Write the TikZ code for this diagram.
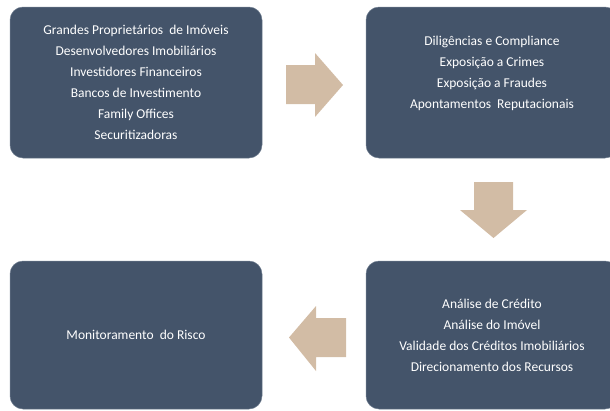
\documentclass[tikz,border=0pt]{standalone}
\usepackage{fontspec}
\setmainfont{Carlito}
\definecolor{boxfill}{HTML}{44546A}
\definecolor{boxedge}{HTML}{6F7D8F}
\definecolor{arrowtan}{HTML}{D2BCA5}
\begin{document}
\begin{tikzpicture}[x=1pt,y=-1pt,
  panel/.style={draw=boxedge, line width=0.5pt, fill=boxfill, rounded corners=13pt,
    minimum width=252pt, inner sep=0pt, text=white,
    align=center, font=\fontsize{13.5}{21}\selectfont},
  blockarrow/.style={fill=arrowtan, draw=none}]
\useasboundingbox (0,0) rectangle (610,410);
\node[panel, minimum height=151pt] (src) at (136,82.5) {Grandes Proprietários~ de Imóveis\\Desenvolvedores Imobiliários\\Investidores Financeiros\\Bancos de Investimento\\Family Offices\\Securitizadoras};
\node[panel, minimum height=151pt] (dil) at (492,82.5) {Diligências e Compliance\\Exposição a Crimes\\Exposição a Fraudes\\Apontamentos~ Reputacionais\\ ~};
\node[panel, minimum height=148pt] (ana) at (492,335) {Análise de Crédito\\Análise do Imóvel\\Validade dos Créditos Imobiliários\\Direcionamento dos Recursos};
\node[panel, minimum height=148pt] (mon) at (136,335) {Monitoramento~ do Risco};
% right arrow
\fill[blockarrow] (286,65) -- (315,65) -- (315,53) -- (343,85) -- (315,117) -- (315,104) -- (286,104) -- cycle;
% down arrow
\fill[blockarrow] (474,182) -- (513,182) -- (513,210) -- (527,210) -- (493.5,238) -- (460,210) -- (474,210) -- cycle;
% left arrow
\fill[blockarrow] (346,318) -- (316,318) -- (316,306) -- (289,337.5) -- (316,371) -- (316,357) -- (346,357) -- cycle;
\end{tikzpicture}
\end{document}
